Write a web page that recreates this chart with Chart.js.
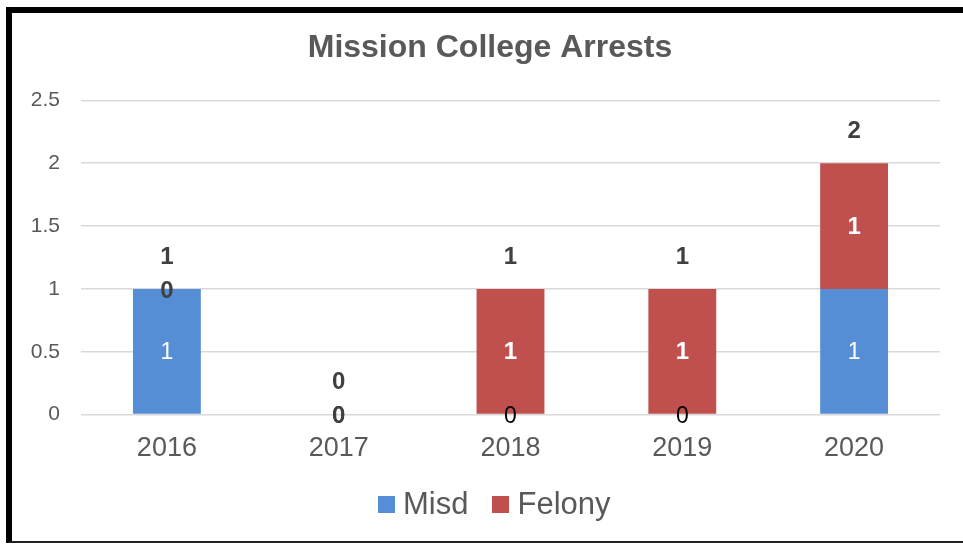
<!DOCTYPE html>
<html>
<head>
<meta charset="utf-8">
<script src="https://cdn.jsdelivr.net/npm/chart.js@4.4.1/dist/chart.umd.min.js"></script>
<style>
    html, body { margin: 0; padding: 0; background: #fff; overflow: hidden; }
    body { width: 963px; height: 544px; position: relative; font-family: "Liberation Sans", Arial, sans-serif; }
    .frame {
        position: absolute;
        left: 6px;
        top: 7px;
        width: 962px;
        height: 536px;
        border-left: 6px solid #000;
        border-top: 6px solid #000;
        border-bottom: 2px solid #222;
        box-sizing: border-box;
    }
    .wrap {
        position: absolute;
        left: 12px;
        top: 13px;
        width: 956px;
        height: 527px;
    }
    #legend {
        position: absolute;
        left: 378px;
        top: 486px;
        height: 36px;
        display: flex;
        align-items: center;
        font-size: 31px;
        color: #595959;
    }
    #legend .item { display: flex; align-items: center; margin-right: 24px; }
    #legend .box { width: 17px; height: 17px; margin-right: 8px; }
</style>
</head>
<body>
<div class="frame"></div>
<div class="wrap"><canvas id="arrestsChart"></canvas></div>
<div id="legend"></div>
<script>
const years = ['2016', '2017', '2018', '2019', '2020'];
const misd = [1, 0, 0, 0, 1];
const felony = [0, 0, 1, 1, 1];
const yTicks = [0, 0.5, 1, 1.5, 2, 2.5];

const totals = years.map((y, i) => misd[i] + felony[i]);

const FONT = '"Liberation Sans", Arial, sans-serif';

// draws the value labels on each segment and the total above the stack
const barLabels = {
    id: 'barLabels',
    afterDatasetsDraw(chart) {
        const ctx = chart.ctx;
        const yScale = chart.scales.y;
        ctx.save();
        ctx.textAlign = 'center';
        ctx.textBaseline = 'middle';

        chart.data.datasets.forEach((ds, di) => {
            const meta = chart.getDatasetMeta(di);
            meta.data.forEach((bar, i) => {
                const v = ds.data[i];
                const yMid = (bar.y + bar.base) / 2;
                if (di === 0) {
                    ctx.font = '23px ' + FONT;
                    ctx.fillStyle = v > 0 ? '#ffffff' : '#000000';
                } else {
                    ctx.font = 'bold 24px ' + FONT;
                    ctx.fillStyle = v > 0 ? '#ffffff' : '#404040';
                }
                ctx.fillText(String(v), bar.x, yMid + (v > 0 ? 1 : 2));
            });
        });

        const meta0 = chart.getDatasetMeta(0);
        ctx.font = 'bold 24px ' + FONT;
        ctx.fillStyle = '#404040';
        totals.forEach((t, i) => {
            const x = meta0.data[i].x;
            ctx.fillText(String(t), x, yScale.getPixelForValue(t) - 32);
        });
        ctx.restore();
    }
};

function buildLegend(chart) {
    const el = document.getElementById('legend');
    el.innerHTML = chart.data.datasets.map(ds =>
        `<div class="item"><span class="box" style="background:${ds.backgroundColor}"></span>${ds.label}</div>`
    ).join('');
}

function createArrestsChart() {
    const ctx = document.getElementById('arrestsChart');
    if (!ctx) return;

    const chart = new Chart(ctx, {
        type: 'bar',
        data: {
            labels: years,
            datasets: [{
                label: 'Misd',
                data: misd,
                backgroundColor: '#558ED5',
                borderWidth: 0
            }, {
                label: 'Felony',
                data: felony,
                backgroundColor: '#C0504D',
                borderWidth: 0
            }]
        },
        options: {
            responsive: true,
            maintainAspectRatio: false,
            animation: false,
            categoryPercentage: 1,
            barPercentage: 0.395,
            layout: {
                padding: { top: 16, right: 0, bottom: 65, left: 0 }
            },
            plugins: {
                title: {
                    display: true,
                    text: 'Mission College Arrests',
                    color: '#595959',
                    font: { family: FONT, size: 32, weight: 'bold' },
                    padding: { top: 0, bottom: 33 }
                },
                legend: { display: false },
                tooltip: { enabled: false }
            },
            scales: {
                x: {
                    stacked: true,
                    grid: { display: false },
                    border: { display: false },
                    ticks: {
                        color: '#595959',
                        padding: 10,
                        font: { family: FONT, size: 27 }
                    }
                },
                y: {
                    stacked: true,
                    min: 0,
                    max: 2.5,
                    afterBuildTicks: function(axis) {
                        axis.ticks = yTicks.map(v => ({ value: v }));
                    },
                    afterFit: function(axis) {
                        axis.width = 69;
                    },
                    grid: { color: '#d9d9d9', lineWidth: 1.5, drawTicks: false },
                    border: { display: false },
                    ticks: {
                        color: '#595959',
                        padding: 21,
                        font: { family: FONT, size: 21 },
                        callback: function(value) {
                            return String(value);
                        }
                    }
                },
                // empty right-hand axis, only reserves space so the title stays centred
                yRight: {
                    position: 'right',
                    min: 0,
                    max: 2.5,
                    grid: { display: false },
                    border: { display: false },
                    ticks: { display: false },
                    afterFit: function(axis) {
                        axis.width = 28;
                    }
                }
            }
        },
        plugins: [barLabels]
    });
    buildLegend(chart);
}

createArrestsChart();
</script>
</body>
</html>
